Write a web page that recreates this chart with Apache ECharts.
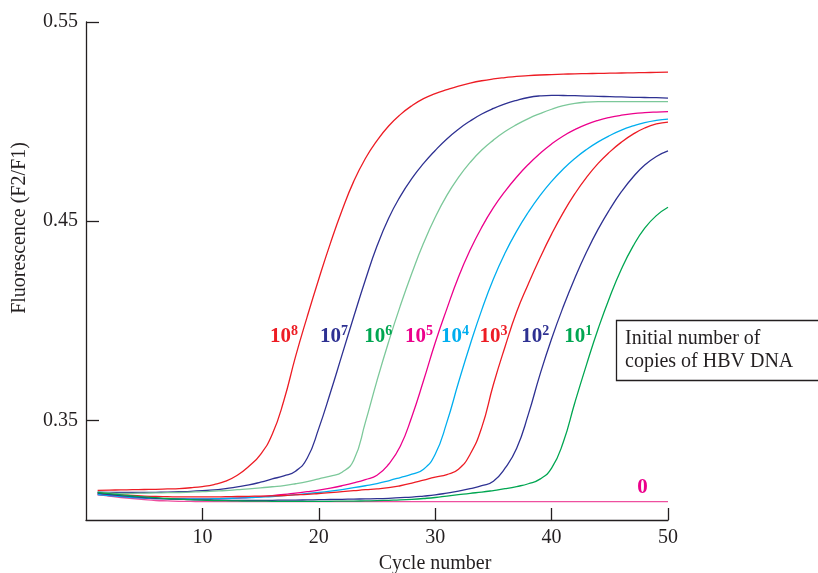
<!DOCTYPE html>
<html>
<head>
<meta charset="utf-8">
<script src="https://cdn.jsdelivr.net/npm/echarts@6/dist/echarts.min.js"></script>
<style>
  html, body { margin: 0; padding: 0; background: #fff; }
  #chart { width: 818px; height: 573px; }
</style>
</head>
<body>
<div id="chart"></div>
<script>
// cycles 1..50
const cycles = [1,2,3,4,5,6,7,8,9,10,11,12,13,14,15,16,17,18,19,20,21,22,23,24,25,26,27,28,29,30,31,32,33,34,35,36,37,38,39,40,41,42,43,44,45,46,47,48,49,50]

// fluorescence, one array per initial copy number
const copies1e8 = [0.3149,0.3150,0.3151,0.3152,0.3153,0.3154,0.3156,0.3158,0.3162,0.3168,0.3178,0.3195,0.3225,0.3270,0.3330,0.3430,0.3600,0.3820,0.4020,0.4210,0.4390,0.4555,0.4700,0.4815,0.4905,0.4978,0.5035,0.5080,0.5115,0.5140,0.5160,0.5178,0.5193,0.5205,0.5214,0.5221,0.5227,0.5231,0.5234,0.5236,0.5238,0.5240,0.5241,0.5242,0.5243,0.5244,0.5245,0.5246,0.5247,0.5248]
const copies1e7 = [0.3140,0.3139,0.3138,0.3138,0.3138,0.3139,0.3140,0.3142,0.3144,0.3147,0.3151,0.3158,0.3166,0.3176,0.3190,0.3206,0.3222,0.3245,0.3310,0.3460,0.3640,0.3830,0.4020,0.4205,0.4375,0.4515,0.4625,0.4715,0.4790,0.4855,0.4913,0.4962,0.5003,0.5038,0.5066,0.5089,0.5107,0.5121,0.5129,0.5132,0.5131,0.5130,0.5128,0.5127,0.5125,0.5124,0.5122,0.5121,0.5120,0.5118]
const copies1e6 = [0.3140,0.3136,0.3134,0.3134,0.3135,0.3136,0.3137,0.3138,0.3140,0.3142,0.3145,0.3148,0.3152,0.3156,0.3161,0.3167,0.3173,0.3182,0.3193,0.3207,0.3220,0.3240,0.3300,0.3490,0.3700,0.3895,0.4075,0.4240,0.4390,0.4520,0.4630,0.4720,0.4795,0.4857,0.4907,0.4950,0.4985,0.5015,0.5040,0.5062,0.5080,0.5092,0.5098,0.5100,0.5100,0.5100,0.5100,0.5100,0.5100,0.5100]
const copies1e5 = [0.3128,0.3122,0.3117,0.3113,0.3110,0.3108,0.3107,0.3106,0.3106,0.3106,0.3107,0.3108,0.3110,0.3113,0.3117,0.3122,0.3128,0.3135,0.3142,0.3150,0.3160,0.3172,0.3186,0.3203,0.3225,0.3280,0.3370,0.3520,0.3700,0.3890,0.4060,0.4220,0.4355,0.4470,0.4568,0.4650,0.4722,0.4785,0.4840,0.4888,0.4928,0.4960,0.4986,0.5006,0.5021,0.5032,0.5040,0.5045,0.5048,0.5050]
const copies1e4 = [0.3128,0.3122,0.3117,0.3113,0.3110,0.3108,0.3107,0.3106,0.3106,0.3106,0.3107,0.3108,0.3110,0.3112,0.3115,0.3118,0.3122,0.3127,0.3132,0.3138,0.3145,0.3153,0.3162,0.3172,0.3183,0.3197,0.3213,0.3230,0.3255,0.3330,0.3490,0.3690,0.3880,0.4055,0.4210,0.4340,0.4450,0.4545,0.4628,0.4700,0.4762,0.4815,0.4860,0.4898,0.4930,0.4957,0.4978,0.4995,0.5006,0.5012]
const copies1e3 = [0.3135,0.3130,0.3126,0.3123,0.3120,0.3118,0.3117,0.3116,0.3116,0.3116,0.3116,0.3117,0.3118,0.3119,0.3120,0.3121,0.3123,0.3126,0.3129,0.3133,0.3137,0.3142,0.3147,0.3152,0.3156,0.3162,0.3172,0.3185,0.3200,0.3215,0.3228,0.3255,0.3330,0.3465,0.3680,0.3870,0.4045,0.4185,0.4315,0.4435,0.4543,0.4638,0.4720,0.4790,0.4848,0.4897,0.4937,0.4968,0.4988,0.4997]
const copies1e2 = [0.3135,0.3128,0.3122,0.3117,0.3113,0.3109,0.3106,0.3104,0.3102,0.3101,0.3100,0.3099,0.3099,0.3099,0.3099,0.3099,0.3100,0.3100,0.3101,0.3102,0.3103,0.3104,0.3105,0.3106,0.3107,0.3109,0.3112,0.3115,0.3120,0.3126,0.3135,0.3145,0.3157,0.3172,0.3195,0.3260,0.3360,0.3530,0.3730,0.3910,0.4070,0.4215,0.4345,0.4460,0.4560,0.4648,0.4722,0.4782,0.4825,0.4853]
const copies1e1 = [0.3138,0.3132,0.3126,0.3121,0.3116,0.3112,0.3108,0.3105,0.3102,0.3100,0.3098,0.3097,0.3096,0.3095,0.3095,0.3094,0.3094,0.3094,0.3094,0.3094,0.3094,0.3095,0.3095,0.3096,0.3097,0.3099,0.3101,0.3104,0.3108,0.3113,0.3120,0.3127,0.3134,0.3140,0.3148,0.3157,0.3168,0.3182,0.3205,0.3260,0.3390,0.3590,0.3780,0.3960,0.4120,0.4260,0.4375,0.4465,0.4528,0.4570]
const copies0 = [0.3128,0.3120,0.3113,0.3107,0.3102,0.3098,0.3096,0.3094,0.3093,0.3092,0.3092,0.3092,0.3092,0.3092,0.3092,0.3092,0.3092,0.3092,0.3092,0.3092,0.3092,0.3092,0.3092,0.3092,0.3092,0.3092,0.3092,0.3092,0.3092,0.3092,0.3092,0.3092,0.3092,0.3092,0.3092,0.3092,0.3092,0.3092,0.3092,0.3092,0.3092,0.3092,0.3092,0.3092,0.3092,0.3092,0.3092,0.3092,0.3092,0.3092]

// label text and where it sits (cycle, fluorescence)
const labelBase = ['10','10','10','10','10','10','10','10','0']
const labelExp = ['8','7','6','5','4','3','2','1','']
const labelAt = [[17.0,0.392],[21.3,0.392],[25.1,0.392],[28.6,0.392],[31.7,0.392],[35.0,0.392],[38.6,0.392],[42.3,0.392],[47.8,0.3164]]

const xTicks = [10,20,30,40,50]
const yTicks = [0.35,0.45,0.55]

const seriesData = [copies1e8, copies1e7, copies1e6, copies1e5, copies1e4, copies1e3, copies1e2, copies1e1, copies0]
const colors = ['#ed1c24','#2e3192','#7cc89a','#ec008c','#00aeef','#ed1c24','#2e3192','#00a651','#ee4f9f']
const labelColors = ['#ed1c24','#2e3192','#00a651','#ec008c','#00aeef','#ed1c24','#2e3192','#00a651','#ec008c']

const ink = '#231f20'
const serif = '"Liberation Serif", "Times New Roman", serif'

const chart = echarts.init(document.getElementById('chart'))

const series = seriesData.map((vals, i) => ({
  type: 'line',
  data: cycles.map((c, k) => [c, vals[k]]),
  showSymbol: false,
  smooth: 0.5,
  lineStyle: { color: colors[i], width: 1.3 },
  z: i === 8 ? 1 : 2,
  markPoint: {
    symbol: 'circle',
    symbolSize: 0,
    silent: true,
    data: [{
      coord: labelAt[i],
      label: {
        show: true,
        position: 'inside',
        formatter: labelExp[i] ? '{b|' + labelBase[i] + '}{s|' + labelExp[i] + '}' : '{b|' + labelBase[i] + '}',
        rich: {
          b: { fontFamily: serif, fontWeight: 'bold', fontSize: 21, color: labelColors[i], lineHeight: 24 },
          s: { fontFamily: serif, fontWeight: 'bold', fontSize: 14, color: labelColors[i], verticalAlign: 'top', lineHeight: 24, padding: [0, 0, 9, 0] }
        }
      }
    }]
  }
}))

chart.setOption({
  animation: false,
  backgroundColor: '#fff',
  grid: { left: 86, right: 150, top: 22, bottom: 53 },
  xAxis: {
    type: 'value',
    min: 0,
    max: 50,
    axisLine: { lineStyle: { color: ink, width: 1.3 } },
    axisTick: { inside: true, length: 12, customValues: xTicks, lineStyle: { color: ink, width: 1.3 } },
    axisLabel: { customValues: xTicks, color: ink, fontFamily: serif, fontSize: 20, margin: 8 },
    splitLine: { show: false }
  },
  yAxis: {
    type: 'value',
    min: 0.30,
    max: 0.55,
    axisLine: { show: true, lineStyle: { color: ink, width: 1.3 } },
    axisTick: { show: true, inside: true, length: 13, customValues: yTicks, lineStyle: { color: ink, width: 1.3 } },
    axisLabel: { customValues: yTicks, color: ink, fontFamily: serif, fontSize: 20, margin: 8, formatter: v => v.toFixed(2) },
    splitLine: { show: false }
  },
  graphic: [
    {
      type: 'text',
      x: 20, y: 228,
      rotation: Math.PI / 2,
      style: { text: 'Fluorescence (F2/F1)', fill: ink, font: '20px ' + serif, align: 'center', verticalAlign: 'middle' }
    },
    {
      type: 'text',
      x: 435, y: 564,
      style: { text: 'Cycle number', fill: ink, font: '20px ' + serif, align: 'center', verticalAlign: 'middle' }
    },
    {
      type: 'rect',
      shape: { x: 616.5, y: 320.5, width: 220, height: 60 },
      style: { fill: '#fff', stroke: ink, lineWidth: 1.3 }
    },
    {
      type: 'text',
      x: 625, y: 327,
      style: { text: 'Initial number of\ncopies of HBV DNA', fill: ink, font: '20px ' + serif, lineHeight: 23, verticalAlign: 'top' }
    }
  ],
  series: series
})
</script>
</body>
</html>
